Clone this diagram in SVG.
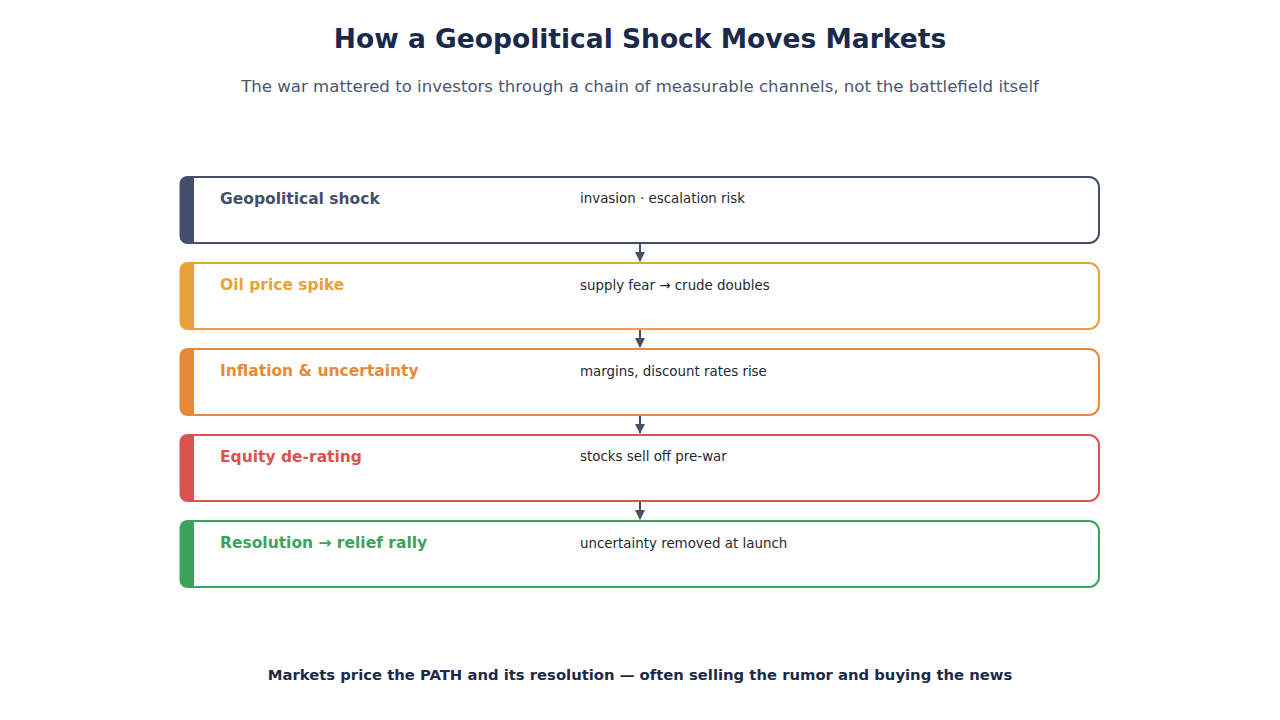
<svg xmlns="http://www.w3.org/2000/svg" width="1280" height="720" viewBox="0 0 1280 720">
<defs>
<marker id="ah" viewBox="0 0 10 10" refX="9" refY="5" markerWidth="5" markerHeight="5" orient="auto" markerUnits="strokeWidth"><path d="M0,0 L10,5 L0,10 z" fill="#44506b"/></marker>
<clipPath id="c"><rect x="179" y="0" width="15" height="720"/></clipPath>
</defs>
<style>
text{font-family:"DejaVu Sans",sans-serif}
.title{font-size:26.5px;font-weight:bold;fill:#1b2a4a}
.sub{font-size:16.6px;fill:#4a5670}
.lab{font-size:15.5px;font-weight:bold}
.desc{font-size:13.4px;fill:#222831}
.box{fill:#fff;stroke-width:2}
.conn{stroke:#44506b;stroke-width:2;fill:none}
.foot{font-size:14.8px;font-weight:bold;fill:#1b2a4a}
</style>
<rect width="1280" height="720" fill="#fff"/>
<text class="title" x="640" y="48" text-anchor="middle">How a Geopolitical Shock Moves Markets</text>
<text class="sub" x="640" y="92" text-anchor="middle">The war mattered to investors through a chain of measurable channels, not the battlefield itself</text>

<g id="n1">
<rect class="box" x="181" y="177" width="918" height="66" rx="10" stroke="#44506b"/>
<rect x="179.5" y="176" width="28" height="68" rx="8" fill="#44506b" clip-path="url(#c)"/>
<text class="lab" x="220" y="204" fill="#44506b">Geopolitical shock</text>
<text class="desc" x="580" y="203">invasion · escalation risk</text>
</g>
<g id="n2">
<rect class="box" x="181" y="263" width="918" height="66" rx="10" stroke="#e9a23b"/>
<rect x="179.5" y="262" width="28" height="68" rx="8" fill="#e9a23b" clip-path="url(#c)"/>
<text class="lab" x="220" y="290" fill="#e9a23b">Oil price spike</text>
<text class="desc" x="580" y="290">supply fear → crude doubles</text>
</g>
<g id="n3">
<rect class="box" x="181" y="349" width="918" height="66" rx="10" stroke="#e8893a"/>
<rect x="179.5" y="348" width="28" height="68" rx="8" fill="#e8893a" clip-path="url(#c)"/>
<text class="lab" x="220" y="376" fill="#e8893a">Inflation &amp; uncertainty</text>
<text class="desc" x="580" y="376">margins, discount rates rise</text>
</g>
<g id="n4">
<rect class="box" x="181" y="435" width="918" height="66" rx="10" stroke="#d9534f"/>
<rect x="179.5" y="434" width="28" height="68" rx="8" fill="#d9534f" clip-path="url(#c)"/>
<text class="lab" x="220" y="462" fill="#d9534f">Equity de-rating</text>
<text class="desc" x="580" y="461">stocks sell off pre-war</text>
</g>
<g id="n5">
<rect class="box" x="181" y="521" width="918" height="66" rx="10" stroke="#3ca35d"/>
<rect x="179.5" y="520" width="28" height="68" rx="8" fill="#3ca35d" clip-path="url(#c)"/>
<text class="lab" x="220" y="548" fill="#3ca35d">Resolution → relief rally</text>
<text class="desc" x="580" y="548">uncertainty removed at launch</text>
</g>

<g id="connectors">
<line class="conn" x1="640" y1="244" x2="640" y2="261" marker-end="url(#ah)"/>
<line class="conn" x1="640" y1="330" x2="640" y2="347" marker-end="url(#ah)"/>
<line class="conn" x1="640" y1="416" x2="640" y2="433" marker-end="url(#ah)"/>
<line class="conn" x1="640" y1="502" x2="640" y2="519" marker-end="url(#ah)"/>
</g>

<text class="foot" x="640" y="680" text-anchor="middle">Markets price the PATH and its resolution — often selling the rumor and buying the news</text>
</svg>
